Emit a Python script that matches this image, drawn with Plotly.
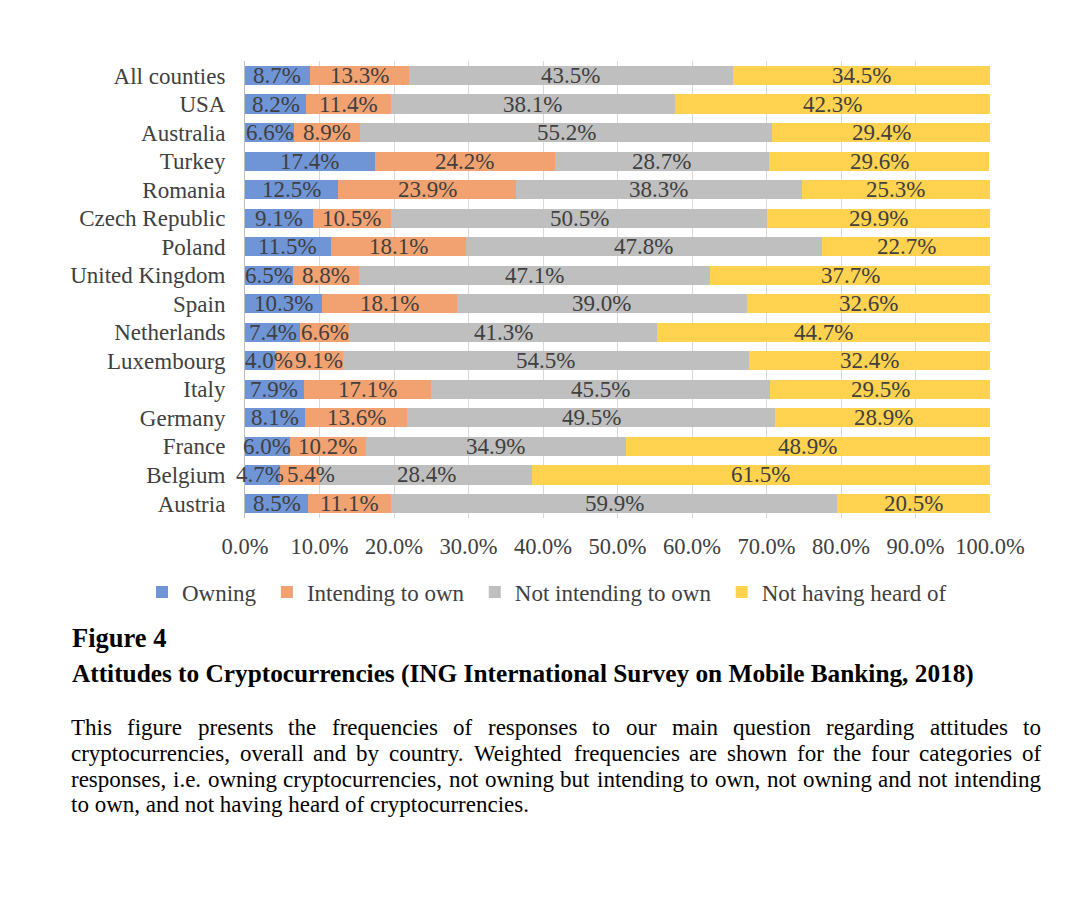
import plotly.graph_objects as go

countries = ["All counties", "USA", "Australia", "Turkey", "Romania", "Czech Republic",
             "Poland", "United Kingdom", "Spain", "Netherlands", "Luxembourg", "Italy",
             "Germany", "France", "Belgium", "Austria"]
owning = [8.7, 8.2, 6.6, 17.4, 12.5, 9.1, 11.5, 6.5, 10.3, 7.4, 4.0, 7.9, 8.1, 6.0, 4.7, 8.5]
intending = [13.3, 11.4, 8.9, 24.2, 23.9, 10.5, 18.1, 8.8, 18.1, 6.6, 9.1, 17.1, 13.6, 10.2, 5.4, 11.1]
not_intending = [43.5, 38.1, 55.2, 28.7, 38.3, 50.5, 47.8, 47.1, 39.0, 41.3, 54.5, 45.5, 49.5, 34.9, 28.4, 59.9]
not_heard = [34.5, 42.3, 29.4, 29.6, 25.3, 29.9, 22.7, 37.7, 32.6, 44.7, 32.4, 29.5, 28.9, 48.9, 61.5, 20.5]

series_names = ["Owning", "Intending to own", "Not intending to own", "Not having heard of"]
series_colors = ["#6F95D7", "#F2A271", "#BFBFBF", "#FFD24F"]
tick_vals = [0, 10, 20, 30, 40, 50, 60, 70, 80, 90, 100]
tick_text = ["0.0%", "10.0%", "20.0%", "30.0%", "40.0%", "50.0%", "60.0%", "70.0%", "80.0%", "90.0%", "100.0%"]

# label nudges (px) where the source chart moved crowded labels: (country, series index) -> shift
label_nudge = {("Luxembourg", 0): 9, ("Luxembourg", 1): 10, ("Belgium", 0): -3, ("Belgium", 1): 11}

fig_label = "Figure 4"
fig_title = "Attitudes to Cryptocurrencies (ING International Survey on Mobile Banking, 2018)"
caption_lines = [
    "This figure presents the frequencies of responses to our main question regarding attitudes to",
    "cryptocurrencies, overall and by country. Weighted frequencies are shown for the four categories of",
    "responses, i.e. owning cryptocurrencies, not owning but intending to own, not owning and not intending",
    "to own, and not having heard of cryptocurrencies.",
]

FONT = "Liberation Serif, Times New Roman, serif"
TXT = "#404040"

OFF = 8  # page body margin
W, H = 1080, 920
L = 245 - OFF
T = 61 - OFF
R = W - (990 - OFF)
B = H - (518 - OFF)
PW = W - L - R
PH = H - T - B


def px_x(px):
    return (px - OFF - L) / PW


def px_y(py):
    return (H - B - (py - OFF)) / PH


series = [owning, intending, not_intending, not_heard]
fig = go.Figure()
for name, vals, col in zip(series_names, series, series_colors):
    fig.add_trace(go.Bar(
        y=countries, x=vals, name=name + "\u00a0", orientation="h",
        marker=dict(color=col, line=dict(width=0)),
        hoverinfo="x+name",
    ))

ann = []
# bar value labels, placed at segment centres on the data axes (drawn above all bars)
for k, vals in enumerate(series):
    for j, c in enumerate(countries):
        start = sum(series[m][j] for m in range(k))
        ann.append(dict(text="%.1f%%" % vals[j], x=start + vals[j] / 2.0, y=c, xref="x", yref="y",
                        xanchor="center", yanchor="middle", showarrow=False,
                        xshift=label_nudge.get((c, k), 0),
                        font=dict(family=FONT, size=23, color=TXT)))

fig.update_layout(
    width=W, height=H, barmode="stack", bargap=0.33,
    margin=dict(l=L, r=R, t=T, b=B, autoexpand=False),
    paper_bgcolor="white", plot_bgcolor="white",
    font=dict(family=FONT, size=23, color=TXT),
    showlegend=True,
    legend=dict(orientation="h", xref="paper", yref="paper",
                x=px_x(142), xanchor="left",
                y=px_y(592), yanchor="middle",
                font=dict(family=FONT, size=23, color=TXT), itemwidth=30, traceorder="normal",
                bgcolor="rgba(0,0,0,0)"),
    xaxis=dict(range=[0, 100], tickvals=tick_vals, ticktext=tick_text, showgrid=True,
               gridcolor="#D9D9D9", gridwidth=1, zeroline=False, showline=False,
               ticklabelstandoff=12, tickfont=dict(family=FONT, size=22.5, color=TXT)),
    yaxis=dict(categoryorder="array", categoryarray=countries, autorange="reversed",
               showline=True, linecolor="#BFBFBF", linewidth=1, showgrid=False,
               ticklabelstandoff=14, tickfont=dict(family=FONT, size=23, color=TXT)),
)

# Times-Roman metric widths (per 1000 em) for justification
widths = {' ': 250, 'a': 444, 'b': 500, 'c': 444, 'd': 500, 'e': 444, 'f': 333, 'g': 500, 'h': 500,
          'i': 278, 'j': 278, 'k': 500, 'l': 278, 'm': 778, 'n': 500, 'o': 500, 'p': 500, 'q': 500,
          'r': 333, 's': 389, 't': 278, 'u': 500, 'v': 500, 'w': 722, 'x': 500, 'y': 500, 'z': 444,
          'T': 611, 'W': 944, ',': 250, '.': 250}


def tw(s, size):
    return sum(widths.get(ch, 500) for ch in s) * size / 1000.0


ann.append(dict(text="<b>" + fig_label + "</b>", x=px_x(70), y=px_y(638), xref="paper", yref="paper",
                xanchor="left", yanchor="middle", showarrow=False,
                font=dict(family=FONT, size=26.5, color="#000000")))
ann.append(dict(text="<b>" + fig_title + "</b>", x=px_x(70), y=px_y(673), xref="paper", yref="paper",
                xanchor="left", yanchor="middle", showarrow=False,
                font=dict(family=FONT, size=25.3, color="#000000")))

CS = 23
left_px, right_px = 70, 1040
line_y = [727, 753, 779, 805]
for i, line in enumerate(caption_lines):
    y = px_y(line_y[i])
    if i < len(caption_lines) - 1:
        words = line.split(" ")
        total = sum(tw(w_, CS) for w_ in words)
        gap = (right_px - left_px - total) / (len(words) - 1)
        xpos = left_px
        for w_ in words:
            ann.append(dict(text=w_, x=px_x(xpos - 1), y=y, xref="paper", yref="paper",
                            xanchor="left", yanchor="middle", showarrow=False,
                            font=dict(family=FONT, size=CS, color="#000000")))
            xpos += tw(w_, CS) + gap
    else:
        ann.append(dict(text=line, x=px_x(left_px - 1), y=y, xref="paper", yref="paper",
                        xanchor="left", yanchor="middle", showarrow=False,
                        font=dict(family=FONT, size=CS, color="#000000")))

fig.update_layout(annotations=ann)
fig.write_html("out.html")
